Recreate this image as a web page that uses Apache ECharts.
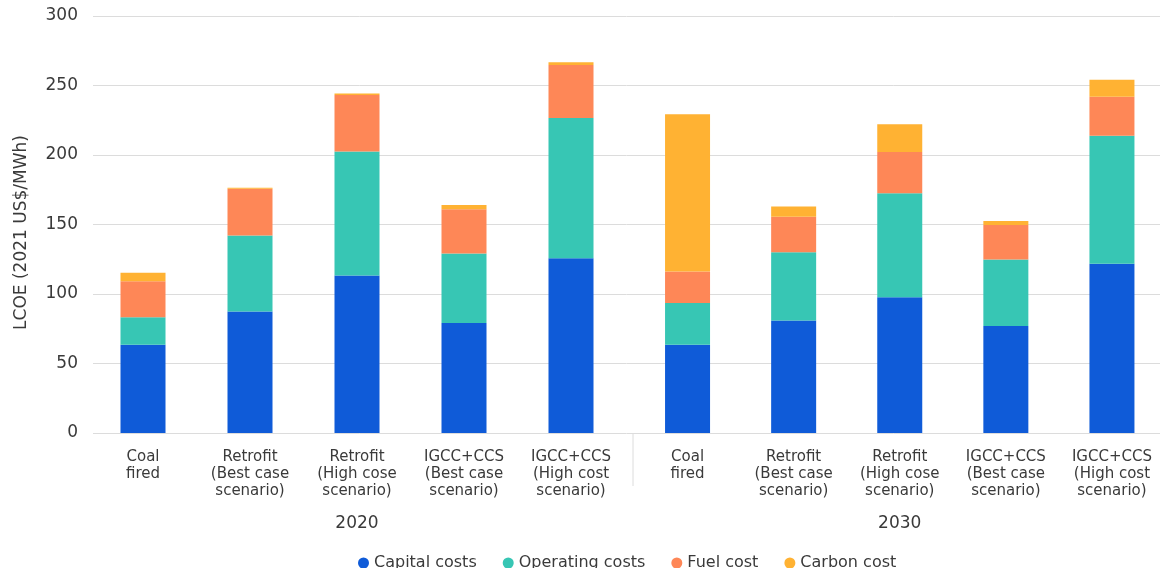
<!DOCTYPE html>
<html>
<head>
<meta charset="utf-8">
<title>LCOE of coal options, 2020 and 2030</title>
<script src="https://cdn.jsdelivr.net/npm/echarts@6/dist/echarts.min.js"></script>
<style>
  html, body { margin: 0; padding: 0; background: #ffffff; }
  #chart { width: 1165px; height: 568px; }
</style>
</head>
<body>
<div id="chart"></div>
<script>
// Technology options, shown once per year group
const categories = [
  'Coal\nfired',
  'Retrofit\n(Best case\nscenario)',
  'Retrofit\n(High cose\nscenario)',
  'IGCC+CCS\n(Best case\nscenario)',
  'IGCC+CCS\n(High cost\nscenario)'
];
const years = ['2020', '2030'];

// Cost components in 2021 US$/MWh: first five values are 2020, last five 2030
const capitalCosts   = [63.5, 87.5, 113.3, 79.1, 125.8, 63.5, 81.0, 97.6, 77.0, 121.7];
const operatingCosts = [19.7, 54.5, 89.2, 50.0, 100.8, 30.1, 49.1, 74.8, 47.8, 92.1];
const fuelCosts      = [26.0, 33.8, 40.6, 31.8, 38.2, 22.6, 25.5, 29.8, 24.8, 28.1];
const carbonCosts    = [6.0, 0.7, 1.2, 3.1, 1.9, 113.2, 7.4, 20.0, 2.9, 12.3];

const yTicks = { min: 0, max: 300, interval: 50 };

const seriesDefs = [
  { name: 'Capital costs',   values: capitalCosts,   color: '#0f5bd8' },
  { name: 'Operating costs', values: operatingCosts, color: '#37c6b4' },
  { name: 'Fuel cost',       values: fuelCosts,      color: '#fe8757' },
  { name: 'Carbon cost',     values: carbonCosts,    color: '#ffb233' }
];

const FONT = '"DejaVu Sans", "Liberation Sans", Arial, sans-serif';
const TEXT = '#3a3a3a';
const GRID_TOP = 16, GRID_BOTTOM = 135;

const chart = echarts.init(document.getElementById('chart'), null, { renderer: 'canvas' });

// Grid 0 carries the shared value scale and gridlines across the full width;
// grids 1 and 2 hold the 2020 and 2030 groups.
const grids = [
  { left: 93, right: 5, top: GRID_TOP, bottom: GRID_BOTTOM },
  { left: 89.5, width: 535, top: GRID_TOP, bottom: GRID_BOTTOM },
  { left: 634.5, width: 533, top: GRID_TOP, bottom: GRID_BOTTOM }
];

const xAxes = [
  { gridIndex: 0, type: 'category', data: [''], show: false },
  ...years.map((yr, i) => ({
    gridIndex: i + 1,
    type: 'category',
    data: categories,
    name: yr,
    nameLocation: 'middle',
    nameGap: 82,
    nameTextStyle: { fontFamily: FONT, fontSize: 17, color: TEXT },
    axisLine: { show: false },
    axisTick: { show: false },
    axisLabel: {
      interval: 0,
      margin: 16,
      fontFamily: FONT,
      fontSize: 15,
      lineHeight: 17,
      color: TEXT,
      align: 'center'
    }
  }))
];

const yAxes = [
  {
    gridIndex: 0,
    type: 'value',
    min: yTicks.min, max: yTicks.max, interval: yTicks.interval,
    name: 'LCOE (2021 US$/MWh)',
    nameLocation: 'middle',
    nameRotate: 90,
    nameGap: 63,
    nameTextStyle: { fontFamily: FONT, fontSize: 17, color: TEXT, padding: [0, 16, 0, 0] },
    axisLine: { show: false },
    axisTick: { show: false },
    axisLabel: { fontFamily: FONT, fontSize: 17, color: TEXT, margin: 15 },
    splitLine: { lineStyle: { color: '#dcdcdc', width: 1 } }
  },
  ...years.map((yr, i) => ({
    gridIndex: i + 1,
    type: 'value',
    min: yTicks.min, max: yTicks.max, interval: yTicks.interval,
    show: false,
    splitLine: { show: false }
  }))
];

const series = [];
years.forEach((yr, g) => {
  seriesDefs.forEach(def => {
    series.push({
      name: def.name,
      type: 'bar',
      stack: 'cost' + yr,
      xAxisIndex: g + 1,
      yAxisIndex: g + 1,
      barWidth: 45,
      itemStyle: { color: def.color },
      emphasis: { disabled: true },
      data: def.values.slice(g * categories.length, (g + 1) * categories.length)
    });
  });
});

chart.setOption({
  backgroundColor: '#ffffff',
  animation: false,
  grid: grids,
  xAxis: xAxes,
  yAxis: yAxes,
  legend: {
    data: seriesDefs.map(d => d.name),
    left: 353,
    top: 550,
    icon: 'circle',
    itemWidth: 11,
    itemHeight: 11,
    itemGap: 26,
    textStyle: { fontFamily: FONT, fontSize: 16, color: TEXT }
  },
  // thin separator between the two year groups
  graphic: [{
    type: 'line',
    shape: { x1: 633, y1: 433, x2: 633, y2: 486 },
    style: { stroke: '#dcdcdc', lineWidth: 1 },
    silent: true
  }],
  series: series
});
</script>
</body>
</html>
